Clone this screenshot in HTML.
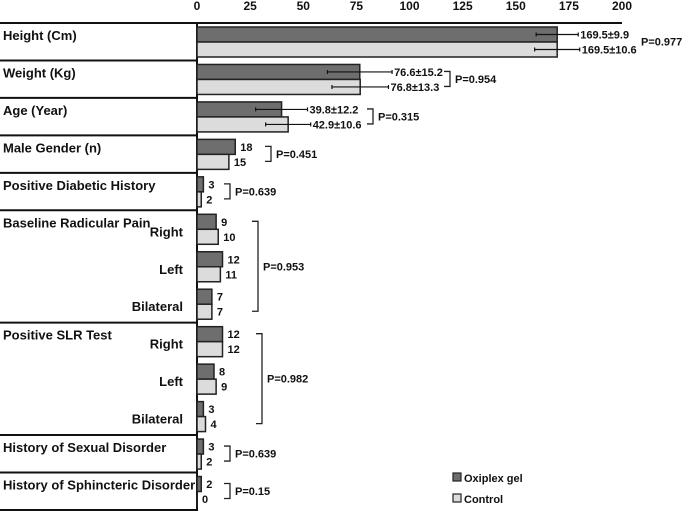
<!DOCTYPE html>
<html><head><meta charset="utf-8"><style>
body{margin:0;background:#fff}
svg{display:block;font-family:"Liberation Sans",sans-serif;font-weight:bold}
</style></head><body>
<svg id="chart" width="685" height="515"></svg>
<script>
const ticks=[0,25,50,75,100,125,150,175,200];
const oxiplex=[169.5,76.6,39.8,18,3,9,12,7,12,8,3,3,2];
const control=[169.5,76.8,42.9,15,2,10,11,7,12,9,4,2,0];
const oxiplexSd=[9.9,15.2,12.2,null,null,null,null,null,null,null,null,null,null];
const controlSd=[10.6,13.3,10.6,null,null,null,null,null,null,null,null,null,null];
const mainLabels=[[0,"Height (Cm)"],[1,"Weight (Kg)"],[2,"Age (Year)"],[3,"Male Gender (n)"],[4,"Positive Diabetic History"],[5,"Baseline Radicular Pain"],[8,"Positive SLR Test"],[11,"History of Sexual Disorder"],[12,"History of Sphincteric Disorder"]];
const subLabels=["","","","","","Right","Left","Bilateral","Right","Left","Bilateral","",""];
const pValues=[[0,0,"P=0.977"],[1,1,"P=0.954"],[2,2,"P=0.315"],[3,3,"P=0.451"],[4,4,"P=0.639"],[5,7,"P=0.953"],[8,10,"P=0.982"],[11,11,"P=0.639"],[12,12,"P=0.15"]];
const bracketX=[null,450,373,271,230,258,262,230,230];

const NS="http://www.w3.org/2000/svg";
const svg=document.getElementById('chart');
const x=v=>197+v*2.125;
const slotTop=i=>23+i*37.46;
function mk(t,a,txt){const e=document.createElementNS(NS,t);for(const k in a)e.setAttribute(k,a[k]);if(txt!=null)e.textContent=txt;svg.appendChild(e);return e;}

ticks.forEach(t=>{const e=mk('text',{x:x(t),y:10,'text-anchor':'middle','font-size':12,fill:'#111'},t);

});
let ax=mk('line',{x1:0,x2:622,y1:23,y2:23,stroke:'#111','stroke-width':2});


let va=mk('line',{x1:197,x2:197,y1:22,y2:511,stroke:'#111','stroke-width':2});


[1,2,3,4,5,8,11,12,13].forEach(i=>{const l=mk('line',{x1:0,x2:197,y1:slotTop(i),y2:slotTop(i),stroke:'#111','stroke-width':2});

});
mainLabels.forEach(([i,t])=>{const e=mk('text',{x:3,y:slotTop(i)+17,'font-size':13,fill:'#111'},t);

});
subLabels.forEach((t,i)=>{if(!t)return;const e=mk('text',{x:183,y:slotTop(i)+26,'text-anchor':'end','font-size':13,fill:'#111'},t);

});

function series(vals,sds,off,fill,name){
 vals.forEach((v,i)=>{
  const y=slotTop(i)+off;
  const r=mk('rect',{x:197,y:y,width:Math.max(x(v)-197,0.01),height:15,fill:fill,stroke:'#222','stroke-width':1.5});
  
  
  const cy=y+7.5;
  if(sds[i]!=null){
   const lo=x(v-sds[i]),hi=x(v+sds[i]);
   const eb=mk('path',{d:`M${lo},${cy}H${hi}M${lo},${cy-2}V${cy+2}M${hi},${cy-2}V${cy+2}`,stroke:'#111','stroke-width':1.2,fill:'none'});
   
   
   const t=mk('text',{x:hi+2,y:cy+4,'font-size':11,fill:'#111'},v+'±'+sds[i]);
   
   
  } else {
   const t=mk('text',{x:x(v)+5,y:cy+4,'font-size':11,fill:'#111'},v);
   
   
  }
 });
}
series(oxiplex,oxiplexSd,4,'#6e6e6e','oxiplex');
series(control,controlSd,19,'#dcdcdc','control');

pValues.forEach(([a,b,t],k)=>{
 const y1=slotTop(a)+11,y2=slotTop(b)+26;
 const bx=bracketX[k];
 if(bx!=null){
  const p=mk('path',{d:`M${bx-6},${y1}H${bx}V${y2}H${bx-6}`,stroke:'#222','stroke-width':1.3,fill:'none'});
  
  
 }
 const tx=bx!=null?bx+5:641;
 const e=mk('text',{x:tx,y:(y1+y2)/2+4,'font-size':11,fill:'#111'},t);
 
 
});

[['Oxiplex gel','#6e6e6e',478],['Control','#dcdcdc',499]].forEach(([t,c,y])=>{
 const r=mk('rect',{x:453,y:y-5,width:8,height:8,fill:c,stroke:'#222','stroke-width':1.2});
 
 
 const e=mk('text',{x:464,y:y+4,'font-size':11,fill:'#111'},t);
 
 
});
</script>
</body></html>
